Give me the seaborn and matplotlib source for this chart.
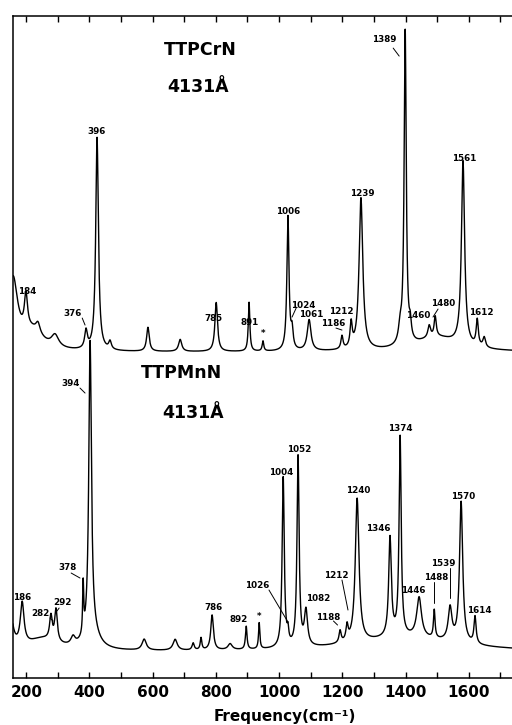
import numpy as np
import pandas as pd
import seaborn as sns
from matplotlib import pyplot as plt
from matplotlib.ticker import MultipleLocator

# peak centres (cm-1, as drawn on the axis), heights and half widths
# top trace: TTPCrN
cr_center = [158, 199, 220, 237, 291, 389, 424, 465, 585, 687, 801, 905, 949,
             1028, 1041, 1095, 1199, 1228, 1259, 1383, 1399, 1415, 1475, 1494,
             1500, 1582, 1627, 1649]
cr_height = [70, 35, 18, 10, 12, 18, 213, 8, 24, 12, 49, 49, 10,
             134, 18, 31, 13, 24, 152, 15, 314, 15, 12, 20,
             14, 184, 26, 10]
cr_width = [18, 6, 40, 8, 14, 5, 5, 5, 5, 6, 5, 3, 3,
            4, 4, 7, 4, 4, 7, 6, 4, 4, 5, 4,
            80, 6, 4, 5]
cr_base = 326

# bottom trace: TTPMnN
mn_center = [150, 187, 250, 278, 294, 348, 380, 402, 410, 573, 671, 728, 753,
             788, 845, 896, 937, 1013, 1028, 1060, 1085, 1193, 1215, 1247,
             1351, 1383, 1400, 1443, 1491, 1541, 1576, 1620]
mn_height = [34, 42, 12, 24, 32, 8, 50, 295, 15, 11, 11, 7, 12,
             35, 6, 23, 26, 170, 12, 190, 35, 12, 15, 144,
             99, 199, 14, 40, 28, 33, 141, 27]
mn_width = [10, 7, 60, 5, 5, 8, 2, 5, 25, 8, 8, 4, 3,
            5, 8, 3, 2.5, 4, 3, 4, 6, 4, 4, 7,
            5, 4, 200, 9, 3, 7, 6, 4]
mn_base = 26

# peak labels: text, x (cm-1), y (intensity)
cr_labels = ["184", "376", "396", "785", "891", "*", "1006", "1024", "1061",
             "1186", "1212", "1239", "1389", "1460", "1480", "1561", "1612"]
cr_label_x = [202, 348, 421, 791, 908, 949, 1028, 1076, 1101,
              1171, 1196, 1263, 1332, 1440, 1519, 1585, 1639]
cr_label_y = [387, 365, 547, 360, 356, 345, 467, 373, 364,
              355, 367, 485, 639, 363, 375, 520, 366]

mn_labels = ["186", "282", "292", "378", "394", "786", "892", "*", "1026",
             "1004", "1052", "1082", "1188", "1212", "1240", "1346", "1374",
             "1446", "1488", "1539", "1570", "1614"]
mn_label_x = [187, 244, 316, 332, 339, 791, 873, 937, 930,
              1006, 1063, 1123, 1155, 1180, 1250, 1313, 1383,
              1424, 1497, 1519, 1582, 1633]
mn_label_y = [81, 65, 76, 111, 295, 71, 59, 62, 93,
              206, 229, 80, 61, 103, 188, 150, 250,
              88, 101, 115, 182, 68]

# short leader lines from label to peak
leaders = [
    ((377, 360), (386, 353)),
    ((1054, 370), (1041, 361)),
    ((1180, 350), (1199, 348)),
    ((1361, 630), (1380, 622)),
    ((1503, 369), (1487, 361)),
    ((370, 290), (386, 285)),
    ((342, 105), (370, 100)),
    ((275, 60), (285, 57)),
    ((304, 70), (297, 67)),
    ((968, 88), (1028, 56)),
    ((1172, 57), (1185, 53)),
    ((1199, 98), (1218, 68)),
    ((1491, 96), (1491, 75)),
    ((1541, 110), (1541, 80)),
]

freq = np.arange(150, 1745, 0.5)


def spectrum(base, centers, heights, widths):
    y = np.full_like(freq, base, dtype=float)
    for c, h, w in zip(centers, heights, widths):
        y += h * w ** 2 / ((freq - c) ** 2 + w ** 2)
    return y


df = pd.concat([
    pd.DataFrame({"freq": freq, "I": spectrum(cr_base, cr_center, cr_height, cr_width), "sample": "TTPCrN"}),
    pd.DataFrame({"freq": freq, "I": spectrum(mn_base, mn_center, mn_height, mn_width), "sample": "TTPMnN"}),
])

sns.set_style("ticks")
plt.rcParams["font.family"] = ["DejaVu Sans"]
plt.rcParams["text.color"] = "black"
plt.rcParams["axes.labelcolor"] = "black"
plt.rcParams["xtick.color"] = "black"
plt.rcParams["axes.edgecolor"] = "black"

fig = plt.figure(figsize=(5.12, 7.25), dpi=100)
ax = fig.add_axes([0.0254, 0.0648, 0.9746, 0.913])

for name, d in df.groupby("sample"):
    sns.lineplot(data=d, x="freq", y="I", ax=ax, color="black", lw=1.0)

ax.set_xlim(158, 1737)
ax.set_ylim(0, 662)
ax.spines["right"].set_visible(False)
ax.xaxis.set_major_locator(MultipleLocator(200))
ax.xaxis.set_minor_locator(MultipleLocator(100))
ax.tick_params(axis="x", which="both", direction="in", top=True, length=4,
               width=1, labelsize=11, pad=5)
ax.tick_params(axis="y", left=False, labelleft=False)
for lab in ax.get_xticklabels():
    lab.set_fontweight("bold")
for s in ax.spines.values():
    s.set_linewidth(1.1)
ax.set_ylabel("")
ax.set_xlabel("Frequency(cm⁻¹)", fontsize=11, fontweight="bold")
ax.xaxis.label.set_verticalalignment("center")
ax.xaxis.set_label_coords(0.545, -0.058)

for t, x, y in zip(cr_labels, cr_label_x, cr_label_y):
    ax.text(x, y, t, fontsize=6.3, fontweight="bold", ha="center", va="center")
for t, x, y in zip(mn_labels, mn_label_x, mn_label_y):
    ax.text(x, y, t, fontsize=6.3, fontweight="bold", ha="center", va="center")
for (x0, y0), (x1, y1) in leaders:
    ax.plot([x0, x1], [y0, y1], color="black", lw=0.7)

ax.text(750, 628, "TTPCrN", fontsize=12.5, fontweight="bold", ha="center", va="center")
ax.text(744, 591, "4131Å", fontsize=12.5, fontweight="bold", ha="center", va="center")
ax.text(690, 305, "TTPMnN", fontsize=12.5, fontweight="bold", ha="center", va="center")
ax.text(728, 265, "4131Å", fontsize=12.5, fontweight="bold", ha="center", va="center")

fig.savefig("out.png", dpi=100)
plt.close(fig)
